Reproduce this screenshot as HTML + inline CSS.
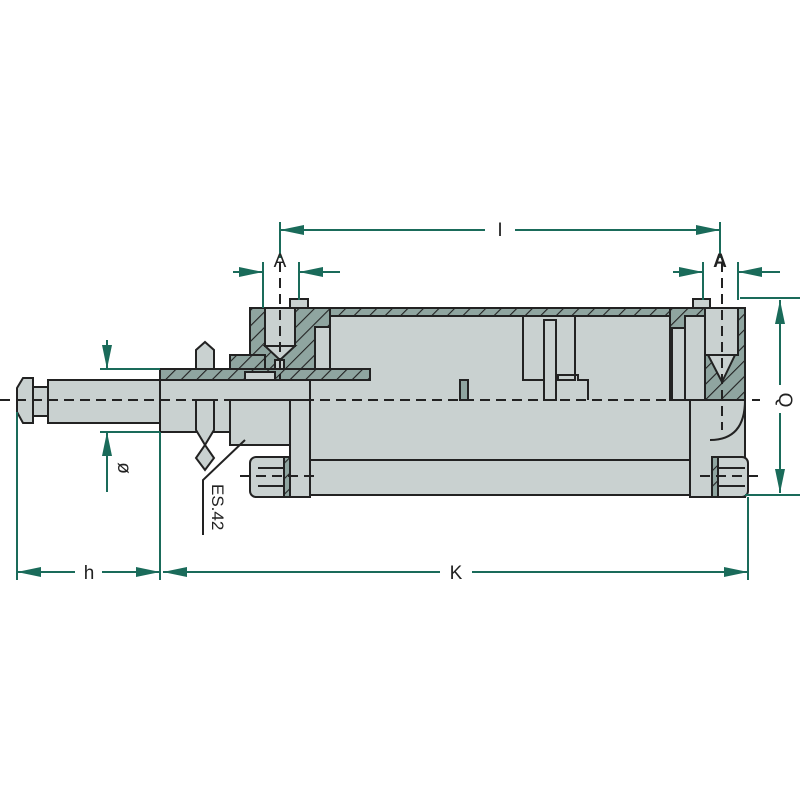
<!DOCTYPE html>
<html><head><meta charset="utf-8"><style>html,body{margin:0;padding:0;background:#fff}svg{display:block}</style></head>
<body>
<svg width="800" height="800" viewBox="0 0 800 800" xmlns="http://www.w3.org/2000/svg" font-family="Liberation Sans, sans-serif">
<defs>
<pattern id="h" width="11" height="11" patternUnits="userSpaceOnUse" patternTransform="rotate(45)">
<rect width="11" height="11" fill="#8fa5a0"/><line x1="0" y1="0" x2="0" y2="11" stroke="#222" stroke-width="2.2"/>
</pattern>
<marker id="a" viewBox="0 0 24 10" refX="24" refY="5" markerWidth="24" markerHeight="10" markerUnits="userSpaceOnUse" orient="auto-start-reverse"><path d="M0,0L24,5L0,10z" fill="#1a6b5a"/></marker>
</defs>
<g stroke="#222" stroke-width="2" fill="#c9d1d0">
<rect x="310" y="308" width="380" height="152"/>
<rect x="310" y="460" width="385" height="35"/>
<rect x="310" y="308" width="362" height="8" fill="url(#h)"/>
<rect x="670" y="308" width="75" height="92" fill="url(#h)"/>
<rect x="672" y="328" width="13" height="72"/>
<rect x="685" y="316" width="20" height="84"/>
<path d="M690,400H745V497H690Z"/>
<path d="M710,440 Q745,440 745,400" fill="none"/>
<path d="M705,308H738V355H705Z"/>
<path d="M708,355H735L722,382Z"/>
<rect x="693" y="299" width="17" height="9"/>
<rect x="523" y="316" width="52" height="64"/>
<rect x="544" y="320" width="12" height="80"/>
<path d="M558,380V375h20v5h10v20" fill="none"/>
<rect x="460" y="380" width="8" height="20" fill="#8fa5a0"/>
<path d="M250,308H330V380H250Z" fill="url(#h)"/>
<rect x="315" y="327" width="15" height="45"/>
<path d="M230,355H265V380H230Z" fill="url(#h)"/>
<rect x="265" y="308" width="30" height="38"/>
<path d="M265,346H295L280,360Z"/>
<rect x="275" y="360" width="9" height="20"/>
<rect x="290" y="299" width="18" height="9"/>
<rect x="160" y="369" width="210" height="11" fill="url(#h)"/>
<rect x="245" y="372" width="30" height="8"/>
<rect x="160" y="380" width="150" height="52"/>
<rect x="230" y="400" width="60" height="45"/>
<rect x="48" y="380" width="112" height="43"/>
<rect x="33" y="387" width="15" height="29"/>
<path d="M33,378V423H23L17,412V388L23,378Z"/>
<path d="M196,369V350L205,342L214,350V369Z"/>
<path d="M196,400V430L205,445L196,458L205,470L214,458L205,445L214,430V400Z"/>
<rect x="290" y="400" width="20" height="97"/>
<rect x="250" y="457" width="40" height="40" rx="6"/>
<line x1="258" y1="468" x2="288" y2="468"/><line x1="258" y1="486" x2="288" y2="486"/>
<rect x="284" y="457" width="6" height="40" fill="url(#h)"/>
<rect x="712" y="457" width="36" height="40" rx="6"/>
<line x1="718" y1="468" x2="745" y2="468"/><line x1="718" y1="486" x2="745" y2="486"/>
<rect x="712" y="457" width="6" height="40" fill="url(#h)"/>
</g>
<g stroke="#222" stroke-width="2" stroke-dasharray="10,6" fill="none">
<line x1="0" y1="400" x2="760" y2="400"/>
<line x1="280" y1="262" x2="280" y2="380"/>
<line x1="722" y1="262" x2="722" y2="430"/>
<line x1="240" y1="476" x2="320" y2="476"/>
<line x1="700" y1="476" x2="760" y2="476"/>
</g>
<polyline points="245,440 203,480 203,535" fill="none" stroke="#222" stroke-width="2"/>
<text transform="translate(212,484) rotate(90)" font-size="17" fill="#222">ES.42</text>
<g stroke="#1a6b5a" stroke-width="2" fill="none">
<line x1="280" y1="222" x2="280" y2="258"/><line x1="720" y1="222" x2="720" y2="258"/>
<line x1="280" y1="230" x2="485" y2="230" marker-start="url(#a)"/><line x1="515" y1="230" x2="720" y2="230" marker-end="url(#a)"/>
<line x1="263" y1="262" x2="263" y2="308"/><line x1="299" y1="262" x2="299" y2="300"/>
<line x1="233" y1="272" x2="263" y2="272" marker-end="url(#a)"/><line x1="340" y1="272" x2="299" y2="272" marker-end="url(#a)"/>
<line x1="703" y1="262" x2="703" y2="300"/><line x1="738" y1="262" x2="738" y2="300"/>
<line x1="673" y1="272" x2="703" y2="272" marker-end="url(#a)"/><line x1="780" y1="272" x2="738" y2="272" marker-end="url(#a)"/>
<line x1="740" y1="298" x2="800" y2="298"/><line x1="745" y1="495" x2="800" y2="495"/>
<line x1="780" y1="385" x2="780" y2="300" marker-end="url(#a)"/><line x1="780" y1="413" x2="780" y2="493" marker-end="url(#a)"/>
<line x1="100" y1="369" x2="160" y2="369"/><line x1="100" y1="432" x2="160" y2="432"/>
<line x1="107" y1="340" x2="107" y2="369" marker-end="url(#a)"/><line x1="107" y1="492" x2="107" y2="432" marker-end="url(#a)"/>
<line x1="17" y1="412" x2="17" y2="580"/><line x1="160" y1="432" x2="160" y2="580"/><line x1="748" y1="497" x2="748" y2="580"/>
<line x1="75" y1="572" x2="17" y2="572" marker-end="url(#a)"/><line x1="102" y1="572" x2="160" y2="572" marker-end="url(#a)"/>
<line x1="440" y1="572" x2="163" y2="572" marker-end="url(#a)"/><line x1="472" y1="572" x2="748" y2="572" marker-end="url(#a)"/>
</g>
<g fill="#222" font-size="19">
<text x="500" y="236" text-anchor="middle">I</text>
<text x="280" y="267" text-anchor="middle">A</text>
<text x="720" y="267" text-anchor="middle" font-weight="bold">A</text>
<text x="89" y="579" text-anchor="middle">h</text>
<text x="456" y="579" text-anchor="middle">K</text>
<text transform="translate(779,400) rotate(90)" text-anchor="middle">Q</text>
<text transform="translate(118,468) rotate(90)" text-anchor="middle">ø</text>
</g>
</svg>
</body></html>
